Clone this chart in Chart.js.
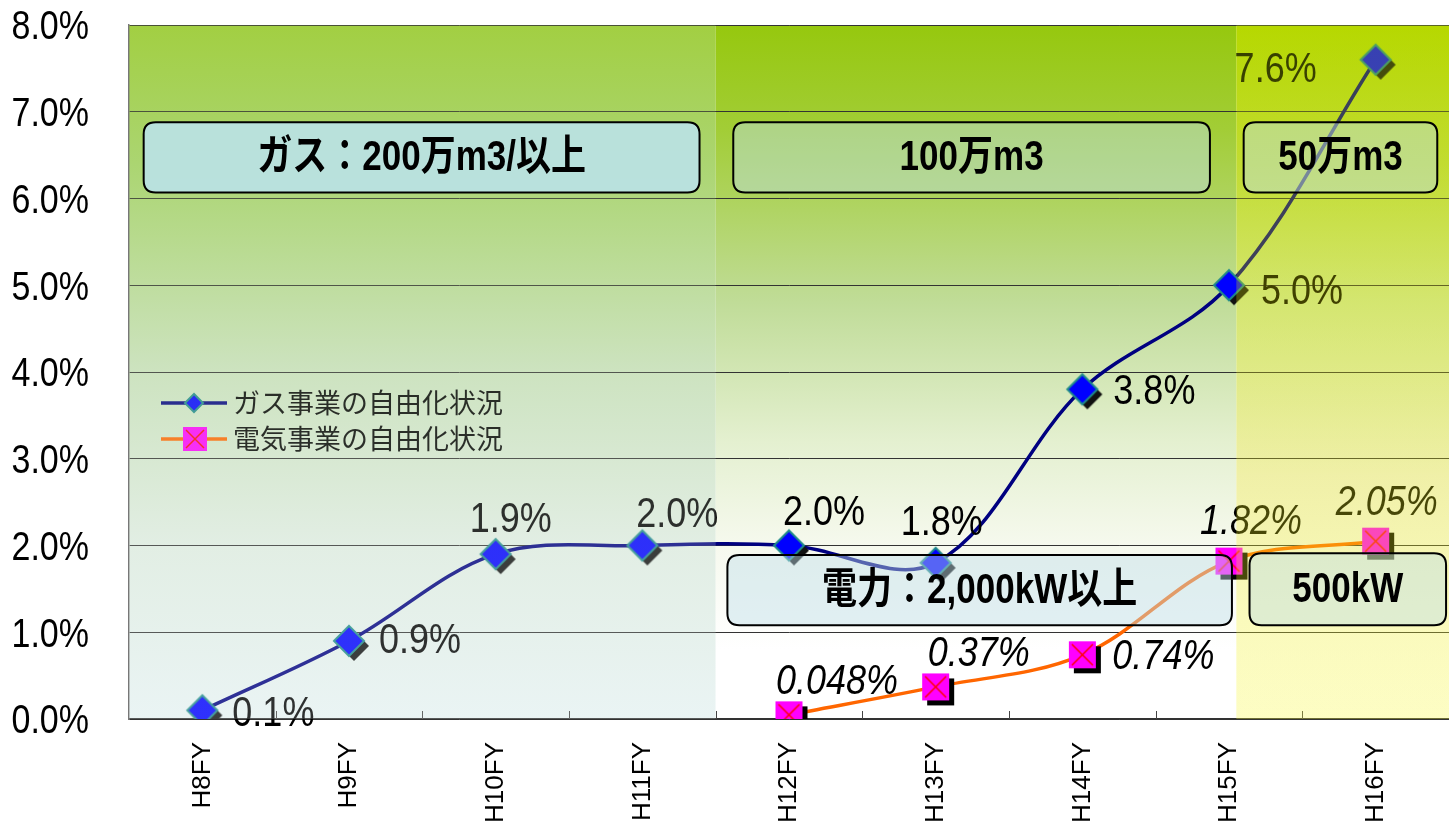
<!DOCTYPE html>
<html lang="ja">
<head>
<meta charset="utf-8">
<title>ガス・電気事業の自由化状況</title>
<script src="https://cdn.jsdelivr.net/npm/chart.js@4.4.1/dist/chart.umd.min.js"></script>
<style>
html, body { margin: 0; padding: 0; background: #fff; }
canvas { display: block; }
</style>
</head>
<body>
<canvas id="jiyuka" width="1449" height="829"></canvas>
<script>
// 年度と自由化範囲(%)
const years = ['H8FY', 'H9FY', 'H10FY', 'H11FY', 'H12FY', 'H13FY', 'H14FY', 'H15FY', 'H16FY'];
const gasShare = [0.1, 0.9, 1.9, 2.0, 2.0, 1.8, 3.8, 5.0, 7.6];
const powerShare = [null, null, null, null, 0.048, 0.37, 0.74, 1.82, 2.05];
const yTicks = [0, 1, 2, 3, 4, 5, 6, 7, 8];

const gasName = 'ガス事業の自由化状況';
const powerName = '電気事業の自由化状況';

// 区分の見出し
const gasBands = ['ガス：200万m3/以上', '100万m3', '50万m3'];
const powerBands = ['電力：2,000kW以上', '500kW'];

// ラベルの置き場所 (点からのずれ dx, dy, 揃え)
const gasLabelPos = [[30, 4, 'left'], [30, 0, 'left'], [15, -34, 'center'], [35, -30, 'center'],
  [35, -32, 'center'], [6, -40, 'center'], [31, 3, 'left'], [32, 7, 'left'], [-59, 10, 'right']];
const powerLabelPos = [null, null, null, null, [48, -33, 'center'], [43, -33, 'center'],
  [30, 2, 'left'], [22, -39, 'center'], [11, -38, 'center']];

const LATIN = "'Liberation Sans', Arial, 'Noto Sans CJK JP', sans-serif";
const CJK = "'Noto Sans CJK JP', 'Noto Sans CJK SC', sans-serif";

// 背景の帯: 左(ガス200万), 中(100万), 右(50万)
// haze > 0 の帯は線やラベルの上にもう一度薄く重ねる (veil はその色)
const leftStops = [[0, '#a2cf42'], [0.2, '#abd571'], [0.5, '#cde3c0'], [0.75, '#e2eee4'], [1, '#eaf4f4']];
const bands = [
  {from: -0.5, to: 3.5, haze: 0.2, stops: leftStops, veil: leftStops},
  {from: 3.5, to: 7.05, haze: 0, stops: [[0, '#96c80e'], [0.15, '#a2cd36'], [0.4, '#c0dc98'], [0.6, '#e4f0d0'], [0.75, '#f6f9ee'], [0.9, '#ffffff'], [1, '#ffffff']]},
  {from: 7.05, to: 8.5, haze: 0.3,
    stops: [[0, 'rgb(182,216,0)'], [0.2, 'rgb(191,222,69)'], [0.4, 'rgb(211,236,160)'], [0.65, 'rgb(242,242,231)'], [0.85, 'rgb(252,252,251)'], [1, 'rgb(254,254,254)']],
    veil: [[0, 'rgb(182,216,0)'], [0.2, 'rgb(200,215,0)'], [0.4, 'rgb(215,215,0)'], [0.65, 'rgb(235,235,20)'], [0.85, 'rgb(245,245,40)'], [1, 'rgb(250,250,60)']]}
];

// 見出しの箱 (カテゴリ位置と%で指定)
const boxes = [
  {text: gasBands[0], x0: -0.4, x1: 3.39, y0: 6.88, y1: 6.07, fill: 'rgba(186,226,232,0.9)'},
  {text: gasBands[1], x0: 3.62, x1: 6.87, y0: 6.88, y1: 6.07, fill: 'rgba(190,222,232,0.45)'},
  {text: gasBands[2], x0: 7.10, x1: 8.42, y0: 6.88, y1: 6.07, fill: 'rgba(190,222,232,0.45)'},
  {text: powerBands[0], x0: 3.58, x1: 7.02, y0: 1.89, y1: 1.08, fill: 'rgba(190,222,232,0.45)'},
  {text: powerBands[1], x0: 7.14, x1: 8.48, y0: 1.91, y1: 1.08, fill: 'rgba(190,222,232,0.45)'}
];

function diamond(g, cx, cy, r) {
  g.beginPath();
  g.moveTo(cx - r, cy);
  g.lineTo(cx, cy - r);
  g.lineTo(cx + r, cy);
  g.lineTo(cx, cy + r);
  g.closePath();
}

function gasMarker(r, shadow) {
  const size = 2 * r + 16;
  const c = document.createElement('canvas');
  c.width = c.height = size;
  const g = c.getContext('2d');
  const m = size / 2;
  if (shadow) {
    diamond(g, m + 5, m + 5, r);
    g.fillStyle = '#111';
    g.fill();
  }
  diamond(g, m, m, r);
  g.fillStyle = '#0000ff';
  g.fill();
  g.lineWidth = 2;
  g.strokeStyle = '#1f8a8a';
  g.stroke();
  return c;
}

function powerMarker(h, shadow) {
  const size = 2 * h + 16;
  const c = document.createElement('canvas');
  c.width = c.height = size;
  const g = c.getContext('2d');
  const m = size / 2;
  if (shadow) {
    g.fillStyle = '#000';
    g.fillRect(m - h + 5, m - h + 5, 2 * h, 2 * h);
  }
  g.fillStyle = '#ff00ff';
  g.fillRect(m - h, m - h, 2 * h, 2 * h);
  g.strokeStyle = '#ff0000';
  g.lineWidth = 1.5;
  g.beginPath();
  g.moveTo(m - h + 3, m - h + 3); g.lineTo(m + h - 3, m + h - 3);
  g.moveTo(m + h - 3, m - h + 3); g.lineTo(m - h + 3, m + h - 3);
  g.stroke();
  return c;
}

function stretchedText(ctx, text, x, y, font, color, align) {
  ctx.save();
  ctx.translate(x, y);
  ctx.scale(1, 1.2);
  ctx.font = font;
  ctx.fillStyle = color;
  ctx.textAlign = align;
  ctx.textBaseline = 'middle';
  ctx.fillText(text, 0, 0);
  ctx.restore();
}

function bandFill(ctx, area, stops) {
  const g = ctx.createLinearGradient(0, area.top, 0, area.bottom);
  stops.forEach(s => g.addColorStop(s[0], s[1]));
  return g;
}

function roundBox(ctx, x0, y0, x1, y1, r) {
  ctx.beginPath();
  ctx.moveTo(x0 + r, y0);
  ctx.lineTo(x1 - r, y0);
  ctx.quadraticCurveTo(x1, y0, x1, y0 + r);
  ctx.lineTo(x1, y1 - r);
  ctx.quadraticCurveTo(x1, y1, x1 - r, y1);
  ctx.lineTo(x0 + r, y1);
  ctx.quadraticCurveTo(x0, y1, x0, y1 - r);
  ctx.lineTo(x0, y0 + r);
  ctx.quadraticCurveTo(x0, y0, x0 + r, y0);
  ctx.closePath();
}

function bandRect(chart, b) {
  const a = chart.chartArea;
  const xs = chart.scales.x;
  const left = Math.max(a.left, xs.getPixelForValue(b.from));
  const right = Math.min(a.right, xs.getPixelForValue(b.to));
  return [left, a.top, right - left, a.bottom - a.top];
}

const backdrop = {
  id: 'backdrop',
  beforeDraw(chart) {
    const ctx = chart.ctx;
    bands.forEach(b => {
      ctx.fillStyle = bandFill(ctx, chart.chartArea, b.stops);
      ctx.fillRect(...bandRect(chart, b));
    });
  },
  afterDatasetsDraw(chart) {
    const ctx = chart.ctx;
    const a = chart.chartArea;
    const xs = chart.scales.x, ys = chart.scales.y;

    // x軸の目盛り(内向き)
    ctx.save();
    ctx.strokeStyle = '#444';
    ctx.lineWidth = 1;
    for (let i = 0; i < years.length - 1; i++) {
      const x = Math.round(xs.getPixelForValue(i + 0.5)) + 0.5;
      ctx.beginPath();
      ctx.moveTo(x, a.bottom);
      ctx.lineTo(x, a.bottom - 8);
      ctx.stroke();
    }
    ctx.restore();

    // 凡例
    const lx = a.left + 32, ly1 = a.top + 378, ly2 = a.top + 414;
    ctx.save();
    ctx.lineWidth = 3.5;
    ctx.strokeStyle = '#000080';
    ctx.beginPath(); ctx.moveTo(lx, ly1); ctx.lineTo(lx + 66, ly1); ctx.stroke();
    ctx.strokeStyle = '#ff6600';
    ctx.beginPath(); ctx.moveTo(lx, ly2); ctx.lineTo(lx + 66, ly2); ctx.stroke();
    const gm = gasMarker(9, false), pm = powerMarker(12, false);
    ctx.drawImage(gm, lx + 33 - gm.width / 2, ly1 - gm.height / 2);
    ctx.drawImage(pm, lx + 34 - pm.width / 2, ly2 - pm.height / 2);
    ctx.font = '27px ' + CJK;
    ctx.fillStyle = '#000';
    ctx.textAlign = 'left';
    ctx.textBaseline = 'middle';
    ctx.fillText(gasName, lx + 72, ly1);
    ctx.fillText(powerName, lx + 72, ly2);
    ctx.restore();

    // データラベル
    gasShare.forEach((v, i) => {
      const p = gasLabelPos[i];
      stretchedText(ctx, v.toFixed(1) + '%', xs.getPixelForValue(i) + p[0], ys.getPixelForValue(v) + p[1],
        '36px ' + LATIN, '#000', p[2]);
    });
    powerShare.forEach((v, i) => {
      if (v === null) return;
      const p = powerLabelPos[i];
      stretchedText(ctx, v + '%', xs.getPixelForValue(i) + p[0], ys.getPixelForValue(v) + p[1],
        'italic 36px ' + LATIN, '#000', p[2]);
    });

    // 左右の帯は上に薄く重ねる
    bands.forEach(b => {
      if (!b.haze) return;
      ctx.save();
      ctx.globalAlpha = b.haze;
      ctx.fillStyle = bandFill(ctx, a, b.veil);
      ctx.fillRect(...bandRect(chart, b));
      ctx.restore();
    });

    // 見出しの箱
    boxes.forEach(bx => {
      const x0 = xs.getPixelForValue(bx.x0), x1 = xs.getPixelForValue(bx.x1);
      const y0 = ys.getPixelForValue(bx.y0), y1 = ys.getPixelForValue(bx.y1);
      ctx.save();
      roundBox(ctx, x0, y0, x1, y1, 12);
      ctx.fillStyle = bx.fill;
      ctx.fill();
      ctx.lineWidth = 2;
      ctx.strokeStyle = '#000';
      ctx.stroke();
      ctx.restore();
      stretchedText(ctx, bx.text, (x0 + x1) / 2, (y0 + y1) / 2 + 1, 'bold 35px ' + LATIN, '#000', 'center');
    });
  },
  afterDraw(chart) {
    const ctx = chart.ctx;
    const ys = chart.scales.y;
    yTicks.forEach(t => {
      stretchedText(ctx, t.toFixed(1) + '%', 89, ys.getPixelForValue(t) + 3, '34px ' + LATIN, '#000', 'right');
    });
  }
};

new Chart(document.getElementById('jiyuka'), {
  type: 'line',
  data: {
    labels: years,
    datasets: [{
      label: gasName,
      data: gasShare,
      borderColor: '#000080',
      borderWidth: 3.5,
      tension: 0.35,
      pointStyle: gasMarker(15, true),
      pointRadius: 12
    }, {
      label: powerName,
      data: powerShare,
      borderColor: '#ff6600',
      borderWidth: 3.5,
      tension: 0.35,
      pointStyle: powerMarker(13.5, true),
      pointRadius: 12
    }]
  },
  options: {
    responsive: false,
    animation: false,
    devicePixelRatio: 1,
    layout: {autoPadding: false, padding: {top: 25, right: 0, left: 0, bottom: 0}},
    plugins: {legend: {display: false}, tooltip: {enabled: false}},
    scales: {
      x: {
        offset: true,
        grid: {display: false, drawTicks: false},
        border: {display: true, color: '#333', width: 1.5},
        ticks: {
          minRotation: 90, maxRotation: 90, padding: 23, color: '#000',
          font: {family: LATIN, size: 26}
        },
        afterFit(scale) {
          scale.height = 110;
          scale.paddingLeft = 0;
          scale.paddingRight = 0;
        }
      },
      y: {
        min: 0, max: 8,
        ticks: {stepSize: 1, display: false},
        grid: {color: '#333', lineWidth: 1, drawTicks: false},
        border: {display: true, color: '#777', width: 1.5},
        afterFit(scale) { scale.width = 129; }
      }
    }
  },
  plugins: [backdrop]
});
</script>
</body>
</html>
